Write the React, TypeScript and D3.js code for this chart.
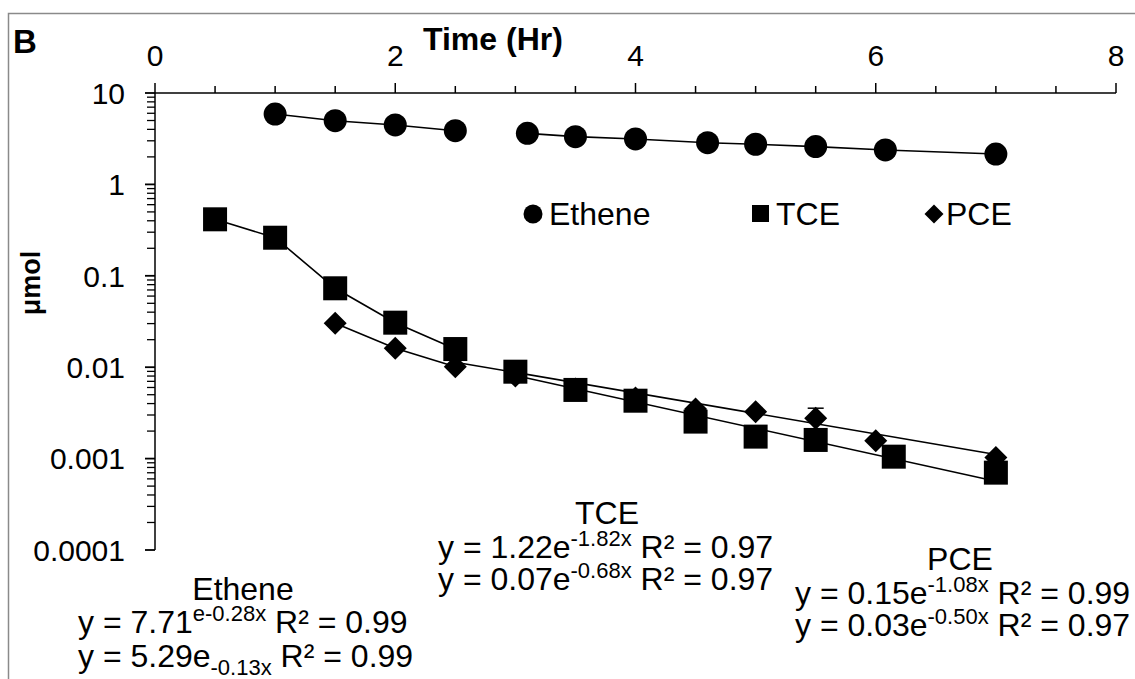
import React from "react";
import * as d3 from "d3";

// ---- data ----
const etheneT1 = [1.0, 1.5, 2.0, 2.5];
const etheneV1 = [5.89, 4.98, 4.47, 3.87];
const etheneT2 = [3.1, 3.5, 4.0, 4.6, 5.0, 5.5, 6.08, 7.0];
const etheneV2 = [3.62, 3.33, 3.14, 2.86, 2.75, 2.59, 2.38, 2.15];

const tceT = [0.5, 1.0, 1.5, 2.0, 2.5, 3.0, 3.5, 4.0, 4.5, 5.0, 5.5, 6.15, 7.0];
const tceV = [0.415, 0.261, 0.073, 0.0307, 0.0158, 0.00893, 0.00564, 0.0043, 0.00254, 0.00174, 0.0016, 0.00105, 0.000702];

const pceT = [1.5, 2.0, 2.5, 3.0, 3.5, 4.0, 4.5, 5.0, 5.5, 6.0, 7.0];
const pceV = [0.0302, 0.0161, 0.0101, 0.008, 0.00577, 0.0046, 0.00349, 0.00326, 0.00276, 0.00157, 0.00103];
const pceErr = [0, 0, 0, 0, 0, 0, 0, 0, 0.0008, 0, 0];

// trend segments (end points)
const tceTrendT = [3.0, 7.0];
const tceTrendV = [0.0081, 0.000566];
const pceTrendT = [2.5, 7.0];
const pceTrendV = [0.01135, 0.00111];

const xTicks = [0, 2, 4, 6, 8];
const yTicks = [10, 1, 0.1, 0.01, 0.001, 0.0001];
const yTickLabels = ["10", "1", "0.1", "0.01", "0.001", "0.0001"];

const legendItems = ["Ethene", "TCE", "PCE"];

const FONT = "'Liberation Sans', Arial, sans-serif";

export default function App() {
  const x = d3.scaleLinear().domain([0, 8]).range([155, 1116]);
  const y = d3.scaleLog().domain([1e-4, 10]).range([550, 93]);

  const line = d3
    .line<[number, number]>()
    .x((d) => x(d[0]))
    .y((d) => y(d[1]));

  const zip = (t: number[], v: number[]) => t.map((tt, i) => [tt, v[i]] as [number, number]);

  const minorX = d3.range(0, 8.001, 0.5).filter((v) => Math.abs(v / 2 - Math.round(v / 2)) > 1e-6);
  const minorY: number[] = [];
  for (let e = -4; e < 1; e++) {
    for (let m = 2; m <= 9; m++) minorY.push(m * Math.pow(10, e));
  }

  const diamond = (cx: number, cy: number, r: number) =>
    `M${cx},${cy - r}L${cx + r},${cy}L${cx},${cy + r}L${cx - r},${cy}Z`;

  const lines: [number, number][][] = [
    zip(etheneT1, etheneV1),
    zip(etheneT2, etheneV2),
    zip(tceT.slice(0, 5), tceV.slice(0, 5)),
    zip(tceTrendT, tceTrendV),
    zip(pceT.slice(0, 3), pceV.slice(0, 3)),
    zip(pceTrendT, pceTrendV),
  ];

  const FS = 32;
  const SS = 22;

  return (
    <div style={{ position: "absolute", left: 0, top: 0 }}>
      <svg width={1135} height={679} style={{ display: "block", background: "#fff" }} fontFamily={FONT}>
        {/* frame */}
        <rect x={8.5} y={13.5} width={1140} height={680} fill="none" stroke="#8a8a8a" strokeWidth={1.5} />
        <text x={13} y={53} fontSize={33} fontWeight="bold">B</text>

        {/* x axis (top) */}
        <line x1={x(0)} x2={x(8)} y1={93} y2={93} stroke="#000" strokeWidth={1.5} />
        {xTicks.map((t) => (
          <g key={"xt" + t}>
            <line x1={x(t)} x2={x(t)} y1={83} y2={93} stroke="#000" strokeWidth={1.5} />
            <text x={x(t)} y={66} fontSize={30} textAnchor="middle">{t}</text>
          </g>
        ))}
        {minorX.map((t) => (
          <line key={"xm" + t} x1={x(t)} x2={x(t)} y1={86} y2={93} stroke="#000" strokeWidth={1.5} />
        ))}
        <text x={423} y={50} fontSize={32} fontWeight="bold">Time (Hr)</text>

        {/* y axis */}
        <line x1={155} x2={155} y1={y(10)} y2={y(1e-4)} stroke="#000" strokeWidth={1.5} />
        {yTicks.map((v, i) => (
          <g key={"yt" + i}>
            <line x1={145} x2={155} y1={y(v)} y2={y(v)} stroke="#000" strokeWidth={1.8} />
            <text x={125} y={y(v)} dy="0.36em" fontSize={30} textAnchor="end">{yTickLabels[i]}</text>
          </g>
        ))}
        {minorY.map((v, i) => (
          <line key={"ym" + i} x1={147} x2={155} y1={y(v)} y2={y(v)} stroke="#000" strokeWidth={1.3} />
        ))}
        <text transform="translate(40,283) rotate(-90)" fontSize={27} fontWeight="bold" textAnchor="middle">μmol</text>

        {/* lines */}
        {lines.map((pts, i) => (
          <path key={"ln" + i} d={line(pts) || ""} fill="none" stroke="#000" strokeWidth={1.6} />
        ))}

        {/* PCE error bars */}
        {pceT.map((t, i) =>
          pceErr[i] > 0 ? (
            <g key={"eb" + i}>
              <line x1={x(t)} x2={x(t)} y1={y(pceV[i] + pceErr[i])} y2={y(Math.max(pceV[i] - pceErr[i], 1e-5))} stroke="#000" strokeWidth={1.5} />
              <line x1={x(t) - 8} x2={x(t) + 8} y1={y(pceV[i] + pceErr[i])} y2={y(pceV[i] + pceErr[i])} stroke="#000" strokeWidth={1.5} />
            </g>
          ) : null
        )}

        {/* PCE diamonds */}
        {pceT.map((t, i) => (
          <path key={"pd" + i} d={diamond(x(t), y(pceV[i]), 11.5)} fill="#000" />
        ))}
        {/* TCE squares */}
        {tceT.map((t, i) => (
          <rect key={"ts" + i} x={x(t) - 12} y={y(tceV[i]) - 12} width={24} height={24} fill="#000" />
        ))}
        {/* Ethene circles */}
        {etheneT1.concat(etheneT2).map((t, i) => (
          <circle key={"ec" + i} cx={x(t)} cy={y(etheneV1.concat(etheneV2)[i])} r={11.5} fill="#000" />
        ))}

        {/* legend */}
        <circle cx={533} cy={214} r={9.5} fill="#000" />
        <text x={549} y={225} fontSize={FS}>{legendItems[0]}</text>
        <rect x={752} y={205} width={17} height={17} fill="#000" />
        <text x={776} y={225} fontSize={FS}>{legendItems[1]}</text>
        <path d={diamond(934, 214, 9.5)} fill="#000" />
        <text x={946} y={225} fontSize={FS}>{legendItems[2]}</text>

        {/* annotations */}
        <text x={243} y={600} fontSize={FS} textAnchor="middle">Ethene</text>
        <text x={78} y={633} fontSize={FS}>
          y = 7.71<tspan dy={-12} fontSize={SS}>e-0.28x</tspan>
          <tspan dy={12}> R² = 0.99</tspan>
        </text>
        <text x={78} y={667} fontSize={FS}>
          y = 5.29e<tspan dy={8} fontSize={SS}>-0.13x</tspan>
          <tspan dy={-8}> R² = 0.99</tspan>
        </text>

        <text x={607} y={524} fontSize={FS} textAnchor="middle">TCE</text>
        <text x={438} y={558} fontSize={FS}>
          y = 1.22e<tspan dy={-12} fontSize={SS}>-1.82x</tspan>
          <tspan dy={12}> R² = 0.97</tspan>
        </text>
        <text x={438} y={590} fontSize={FS}>
          y = 0.07e<tspan dy={-12} fontSize={SS}>-0.68x</tspan>
          <tspan dy={12}> R² = 0.97</tspan>
        </text>

        <text x={960} y={570} fontSize={FS} textAnchor="middle">PCE</text>
        <text x={795} y={604} fontSize={FS}>
          y = 0.15e<tspan dy={-12} fontSize={SS}>-1.08x</tspan>
          <tspan dy={12}> R² = 0.99</tspan>
        </text>
        <text x={795} y={636} fontSize={FS}>
          y = 0.03e<tspan dy={-12} fontSize={SS}>-0.50x</tspan>
          <tspan dy={12}> R² = 0.97</tspan>
        </text>
      </svg>
    </div>
  );
}
